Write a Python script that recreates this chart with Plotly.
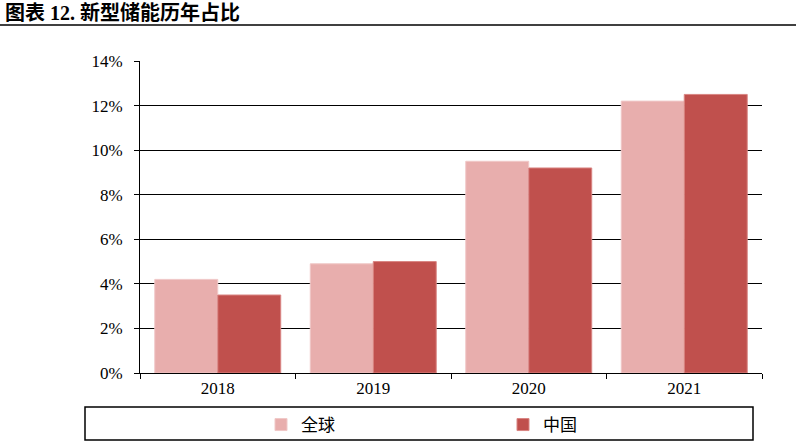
import plotly.graph_objects as go

categories = ["2018", "2019", "2020", "2021"]
global_share = [0.042, 0.049, 0.095, 0.122]
china_share = [0.035, 0.050, 0.092, 0.125]
series_names = ["全球", "中国"]
title_text = "图表 12. 新型储能历年占比"

W, H = 797, 446
L, R, T, B = 140, 35, 61, 73
pw, ph = W - L - R, H - T - B

def px_x(p):
    return (p - L) / pw

def px_y(p):
    return (H - B - p) / ph

serif = "Liberation Serif, Times New Roman, serif"
cjk = "Liberation Serif, Noto Sans CJK SC, serif"

fig = go.Figure()
fig.add_trace(go.Bar(x=categories, y=global_share, name=series_names[0], legend="legend",
                     marker=dict(color="#E8AEAD", line=dict(color="#F0C8C7", width=1))))
fig.add_trace(go.Bar(x=categories, y=china_share, name=series_names[1], legend="legend2",
                     marker=dict(color="#C0504D", line=dict(color="#D98583", width=1))))

leg_common = dict(orientation="h", xanchor="left", yanchor="middle", itemwidth=30,
                  font=dict(family=cjk, size=17, color="black"),
                  bgcolor="rgba(0,0,0,0)")

fig.update_layout(
    width=W, height=H,
    margin=dict(l=L, r=R, t=T, b=B, autoexpand=False),
    paper_bgcolor="white", plot_bgcolor="white",
    barmode="group", bargap=0.19, bargroupgap=0,
    font=dict(family=serif, size=17, color="black"),
    title=dict(text="<b>" + title_text + "</b>", x=5 / W, xanchor="left", xref="container",
               y=1 - 13 / H, yanchor="middle", yref="container",
               font=dict(family=cjk, size=20, color="black")),
    showlegend=True,
    legend=dict(x=px_x(261), y=px_y(425), **leg_common),
    legend2=dict(x=px_x(503), y=px_y(425), **leg_common),
    xaxis=dict(type="category", showline=True, linecolor="black", linewidth=1,
               ticks="outside", tickson="boundaries", ticklen=5, tickcolor="black",
               showgrid=False, tickfont=dict(family=serif, size=17)),
    yaxis=dict(range=[0, 0.14], dtick=0.02, tickformat=".0%", showline=True,
               linecolor="black", linewidth=1, ticks="outside", ticklen=5, tickcolor="black",
               showgrid=True, gridcolor="black", gridwidth=1, zeroline=False,
               ticklabelstandoff=8, tickfont=dict(family=serif, size=17)),
    shapes=[
        dict(type="line", xref="paper", yref="paper", x0=px_x(0), x1=px_x(796),
             y0=px_y(25), y1=px_y(25), line=dict(color="black", width=1.5)),
        dict(type="rect", xref="paper", yref="paper", x0=px_x(85), x1=px_x(753),
             y0=px_y(440), y1=px_y(407), line=dict(color="black", width=1.5)),
    ],
)

fig.write_html("out.html")
